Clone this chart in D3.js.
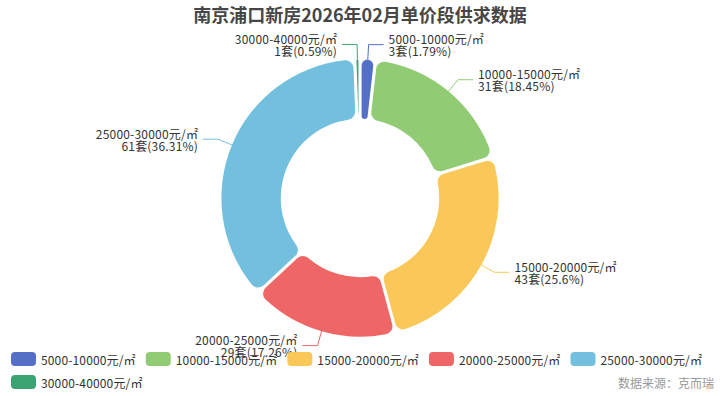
<!DOCTYPE html>
<html>
<head>
<meta charset="utf-8">
<script src="https://cdn.jsdelivr.net/npm/d3@7/dist/d3.min.js"></script>
<style>
  body { margin: 0; background: #fff; }
  svg { display: block; font-family: "Noto Sans CJK SC", "Noto Sans", sans-serif; }
</style>
</head>
<body>
<script>
// data
const title = '南京浦口新房2026年02月单价段供求数据';
const categories = ['5000-10000元/㎡', '10000-15000元/㎡', '15000-20000元/㎡',
                    '20000-25000元/㎡', '25000-30000元/㎡', '30000-40000元/㎡'];
const counts = [3, 31, 43, 29, 61, 1];
const percents = ['1.79', '18.45', '25.6', '17.26', '36.31', '0.59'];
const colors = ['#5470c6', '#91cc75', '#fac858', '#ee6666', '#73c0de', '#3ba272'];
const source = '数据来源：克而瑞';

const width = 720, height = 396;
const cx = width / 2, cy = height / 2;
const outerR = 138.6, innerR = 79.2;

const svg = d3.select('body')
    .append('svg')
    .attr('width', width)
    .attr('height', height);

svg.append('text')
    .attr('x', cx)
    .attr('y', 14)
    .attr('text-anchor', 'middle')
    .attr('dominant-baseline', 'central')
    .attr('font-size', 18)
    .attr('font-weight', 'bold')
    .attr('fill', '#464646')
    .text(title);

const slices = categories.map((c, i) => ({ name: c, value: counts[i], pct: percents[i], color: colors[i] }));

const pie = d3.pie()
    .sort(null)
    .value(d => d.value);

const arc = d3.arc()
    .innerRadius(innerR)
    .outerRadius(outerR)
    .padAngle(0.02)
    .cornerRadius(8);

const arcs = pie(slices);

const g = svg.append('g')
    .attr('transform', `translate(${cx},${cy})`);

g.selectAll('path.slice')
    .data(arcs)
    .join('path')
    .attr('class', 'slice')
    .attr('d', arc)
    .attr('fill', d => d.data.color);

// label lines + labels
const len1 = 15, len2 = 15, gap = 5;

arcs.forEach(d => {
    const mid = (d.startAngle + d.endAngle) / 2;
    const sx = Math.sin(mid), sy = -Math.cos(mid);
    const right = sx >= 0;
    const p0 = [sx * outerR, sy * outerR];
    const p1 = [sx * (outerR + len1), sy * (outerR + len1)];
    const p2 = [p1[0] + (right ? len2 : -len2), p1[1]];

    g.append('path')
        .attr('d', d3.line()([p0, p1, p2]))
        .attr('fill', 'none')
        .attr('stroke', d.data.color)
        .attr('stroke-width', 1);

    const t = g.append('text')
        .attr('x', p2[0] + (right ? gap : -gap))
        .attr('y', p2[1])
        .attr('text-anchor', right ? 'start' : 'end')
        .attr('font-size', 12)
        .attr('letter-spacing', 0.2)
        .attr('fill', '#333');
    t.append('tspan')
        .attr('x', p2[0] + (right ? gap : -gap))
        .attr('dy', -6)
        .attr('dominant-baseline', 'central')
        .text(d.data.name);
    t.append('tspan')
        .attr('x', p2[0] + (right ? gap : -gap))
        .attr('dy', 12)
        .attr('dominant-baseline', 'central')
        .text(`${d.data.value}套(${d.data.pct}%)`);
});

// legend at the bottom, wrapping
const legend = svg.append('g');
const iconW = 25, iconH = 14, itemGap = 10, textPad = 5;
const legendLeft = 11, legendRight = 720, rowH = 23;
let lx = legendLeft, ly = 359;

slices.forEach(s => {
    const item = legend.append('g');
    const label = item.append('text')
        .attr('x', iconW + textPad)
        .attr('y', 0)
        .attr('dominant-baseline', 'central')
        .attr('font-size', 12)
        .attr('letter-spacing', 0.15)
        .attr('fill', '#333')
        .text(s.name);
    const w = iconW + textPad + label.node().getComputedTextLength();
    if (lx + w > legendRight && lx > legendLeft) {
        lx = legendLeft;
        ly += rowH;
    }
    item.attr('transform', `translate(${lx},${ly})`);
    item.insert('rect', 'text')
        .attr('x', 0)
        .attr('y', -iconH / 2)
        .attr('width', iconW)
        .attr('height', iconH)
        .attr('rx', 4)
        .attr('fill', s.color);
    lx += w + itemGap;
});

svg.append('text')
    .attr('x', 714)
    .attr('y', 382)
    .attr('text-anchor', 'end')
    .attr('dominant-baseline', 'central')
    .attr('font-size', 12)
    .attr('fill', '#999')
    .text(source);
</script>
</body>
</html>
